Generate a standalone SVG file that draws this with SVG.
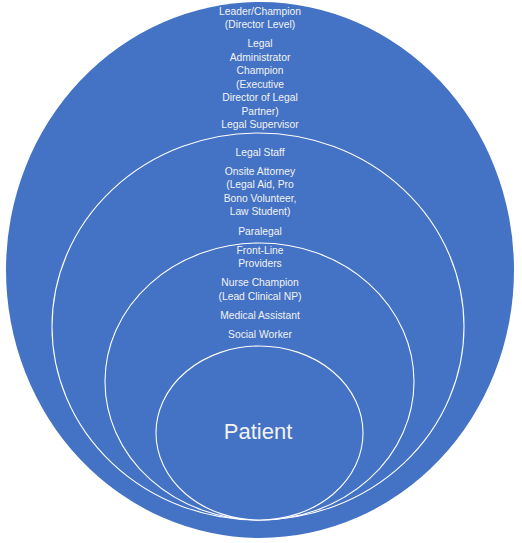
<svg xmlns="http://www.w3.org/2000/svg" width="522" height="543" viewBox="0 0 522 543">
<style>
.ring{fill:#4472C4;stroke:#ffffff;stroke-width:1.1}
.outer{fill:#4472C4;stroke:none}
.lbl{font-family:"Liberation Sans",Arial,sans-serif;font-size:10.3px;fill:#f2f2f2;text-anchor:middle}
.big{font-family:"Liberation Sans",Arial,sans-serif;font-size:22px;fill:#f2f2f2;text-anchor:middle}
</style>
<rect width="522" height="543" fill="#ffffff"/>
<g id="leadership">
<ellipse class="outer" cx="260" cy="270" rx="254" ry="268"/>
<text class="lbl" x="260" y="15">Leader/Champion</text>
<text class="lbl" x="260" y="28">(Director Level)</text>
<text class="lbl" x="260" y="47">Legal</text>
<text class="lbl" x="260" y="61">Administrator</text>
<text class="lbl" x="260" y="74">Champion</text>
<text class="lbl" x="260" y="88">(Executive</text>
<text class="lbl" x="260" y="101">Director of Legal</text>
<text class="lbl" x="260" y="115">Partner)</text>
<text class="lbl" x="260" y="128">Legal Supervisor</text>
</g>
<g id="legal-staff">
<ellipse class="ring" cx="258" cy="326.5" rx="206" ry="193.5"/>
<text class="lbl" x="260" y="156">Legal Staff</text>
<text class="lbl" x="260" y="175">Onsite Attorney</text>
<text class="lbl" x="260" y="188">(Legal Aid, Pro</text>
<text class="lbl" x="260" y="202">Bono Volunteer,</text>
<text class="lbl" x="260" y="215">Law Student)</text>
<text class="lbl" x="260" y="235">Paralegal</text>
</g>
<g id="front-line">
<ellipse class="ring" cx="259.5" cy="381.5" rx="154.5" ry="138.5"/>
<text class="lbl" x="260" y="254">Front-Line</text>
<text class="lbl" x="260" y="267">Providers</text>
<text class="lbl" x="260" y="286">Nurse Champion</text>
<text class="lbl" x="260" y="300">(Lead Clinical NP)</text>
<text class="lbl" x="260" y="319">Medical Assistant</text>
<text class="lbl" x="260" y="338">Social Worker</text>
</g>
<g id="patient">
<ellipse class="ring" cx="259.5" cy="433" rx="103.5" ry="87"/>
<text class="big" x="258" y="439">Patient</text>
</g>
<g id="connectors"/>
</svg>
